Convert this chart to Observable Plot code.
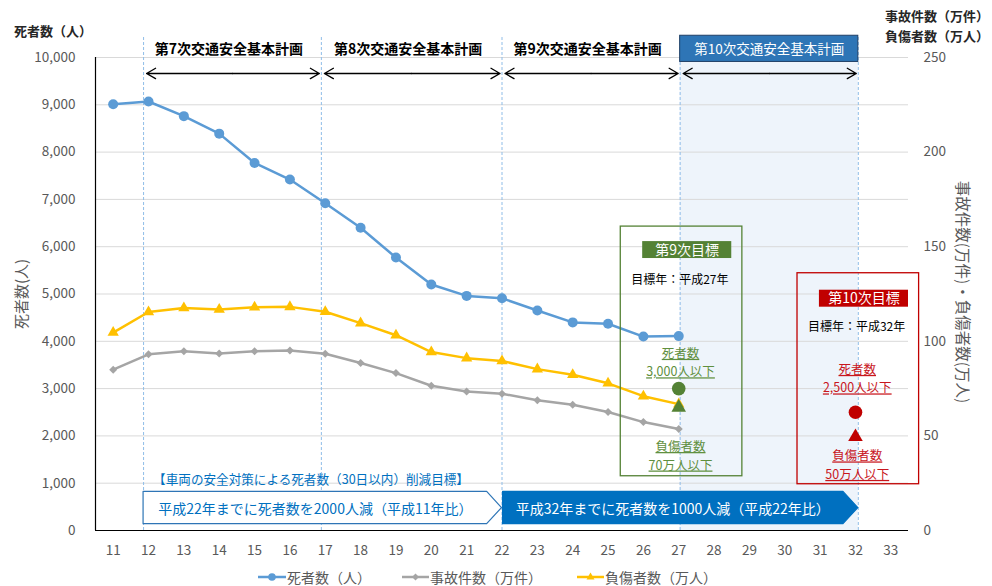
<!DOCTYPE html>
<html><head><meta charset="utf-8">
<script src="https://cdn.jsdelivr.net/npm/d3@7"></script>
<script src="https://cdn.jsdelivr.net/npm/@observablehq/plot@0.6"></script>
<style>
body{margin:0;background:#fff;font-family:"Noto Sans CJK JP","Noto Sans",sans-serif;}
#wrap{position:relative;width:992px;height:586px;overflow:hidden;background:#fff;}
.ov{position:absolute;white-space:nowrap;line-height:1;}
.leg{position:absolute;top:569px;height:16px;display:flex;align-items:center;font-size:14px;color:#595959;white-space:nowrap;}
</style></head>
<body><div id="wrap"></div>
<script>
// ---- data ----
const years = [11,12,13,14,15,16,17,18,19,20,21,22,23,24,25,26,27];
const deaths = [9010,9070,8760,8390,7770,7420,6920,6400,5770,5200,4960,4910,4650,4400,4370,4100,4110];
const accidents = [85.0,93.1,94.7,93.6,94.8,95.2,93.4,88.5,83.2,76.5,73.5,72.3,68.8,66.5,62.6,57.3,53.6];
const injured = [104.6,115.5,117.6,116.8,118.0,118.2,115.6,109.6,103.2,94.3,91.1,89.6,85.3,82.3,77.8,71.0,66.8];
const xTicks = [11,12,13,14,15,16,17,18,19,20,21,22,23,24,25,26,27,28,29,30,31,32,33];
const leftTicks = [0,1000,2000,3000,4000,5000,6000,7000,8000,9000,10000];
const rightTicks = [0,50,100,150,200,250];
const planLabels = ["第7次交通安全基本計画","第8次交通安全基本計画","第9次交通安全基本計画","第10次交通安全基本計画"];
const planBounds = [11.86,16.89,22.0,27.04,32.08];
const targetYears = [27,32];
const targetTitles = ["第9次目標","第10次目標"];
const targetYearLabels = ["目標年：平成27年","目標年：平成32年"];
const targetDeathTexts = ["死者数\n3,000人以下","死者数\n2,500人以下"];
const targetInjTexts = ["負傷者数\n70万人以下","負傷者数\n50万人以下"];
const targetDeaths = [3000,2500];
const targetInjMarks = [65,49.5];
const reductionTitle = "【車両の安全対策による死者数（30日以内）削減目標】";
const reductionLabels = ["平成22年までに死者数を2000人減（平成11年比）","平成32年までに死者数を1000人減（平成22年比）"];
const reductionBounds = [[11.86,22.0],[22.0,32.08]];
const seriesNames = ["死者数（人）","事故件数（万件）","負傷者数（万人）"];

// ---- styling / layout ----
const FONT = '"Noto Sans CJK JP","Noto Sans",sans-serif';
const K = 40; // right axis: 250 ↔ 10,000
const BLUE = "#5B9BD5", GRAY = "#A5A5A5", YEL = "#FFC000";
const GREEN = "#548235", GREENT = "#5F8F3E", RED = "#C00000", REDT = "#C8161D";

const rows = years.map((y,i)=>({year:y, deaths:deaths[i], acc:accidents[i]*K, inj:injured[i]*K}));
const plans = planLabels.map((l,i)=>({label:l, from:planBounds[i], to:planBounds[i+1], current:i===3}));
const tg = targetYears.map((y,i)=>({year:y, title:targetTitles[i], ylab:targetYearLabels[i],
  dt:targetDeathTexts[i], it:targetInjTexts[i], d:targetDeaths[i], inj:targetInjMarks[i]*K,
  col:i===0?GREEN:RED, tcol:i===0?GREENT:REDT}));
// annotation vertical layout (in left-axis units)
const L = [
  {top:6425,bot:1147,lt:6108,lb:5750,ltxt:5929,yl:5290,dm:3580,im:1610},
  {top:5439,bot:978,lt:5080,lb:4721,ltxt:4905,yl:4299,dm:3240,im:1411}
];
tg.forEach((t,i)=>Object.assign(t,L[i]));

const ARROW_Y = 9662, PLAN_Y = 10165, LINE_TOP = 10460, BOX_TOP = 10460, BOX_BOT = 9906;
const RED_TOP = 815, RED_BOT = 133, RED_MID = 474;

const marks = [];
// shaded current plan
marks.push(Plot.rect([plans[3]], {x1:"from", x2:"to", y1:0, y2:10000, fill:"#EEF4FB"}));
marks.push(Plot.gridY(leftTicks.slice(1), {stroke:"#D9D9D9", strokeOpacity:1, strokeWidth:1}));
marks.push(Plot.ruleX(planBounds, {y1:0, y2:LINE_TOP, stroke:"#8FBDE8", strokeWidth:1, strokeDasharray:"3,2"}));
// series
marks.push(Plot.line(rows, {x:"year", y:"acc", stroke:GRAY, strokeWidth:2.5}));
marks.push(Plot.dot(rows, {x:"year", y:"acc", symbol:"diamond2", r:3.6, fill:GRAY}));
marks.push(Plot.line(rows, {x:"year", y:"inj", stroke:YEL, strokeWidth:2.5}));
marks.push(Plot.dot(rows, {x:"year", y:"inj", symbol:"triangle", r:4.2, fill:YEL}));
marks.push(Plot.line(rows, {x:"year", y:"deaths", stroke:BLUE, strokeWidth:2.5}));
marks.push(Plot.dot(rows, {x:"year", y:"deaths", r:5, fill:BLUE}));
// plan headers
marks.push(Plot.text(plans.filter(p=>!p.current), {x:p=>(p.from+p.to)/2-0.1, y:PLAN_Y, text:"label", fill:"#000", fontSize:14, fontWeight:"bold"}));
marks.push(Plot.rect([plans[3]], {x1:"from", x2:"to", y1:BOX_BOT, y2:BOX_TOP, fill:"#2E75B6", stroke:"#1F3F66", strokeWidth:1}));
marks.push(Plot.text([plans[3]], {x:p=>(p.from+p.to)/2, y:PLAN_Y, text:"label", fill:"#fff", fontSize:13.5}));
marks.push(Plot.arrow(plans, {x1:p=>(p.from+p.to)/2, x2:"from", y1:ARROW_Y, y2:ARROW_Y, insetEnd:3, stroke:"#000", strokeWidth:1.3, headLength:12, headAngle:60}));
marks.push(Plot.arrow(plans, {x1:p=>(p.from+p.to)/2, x2:"to", y1:ARROW_Y, y2:ARROW_Y, insetEnd:2, stroke:"#000", strokeWidth:1.3, headLength:12, headAngle:60}));
// target boxes
marks.push(Plot.rect(tg, {x1:t=>t.year-1.64, x2:t=>t.year+1.8, y1:"bot", y2:"top", fill:"none", stroke:"col", strokeWidth:1.3}));
marks.push(Plot.rect(tg, {x1:t=>t.year-1.02, x2:t=>t.year+1.5, y1:"lb", y2:"lt", fill:"col"}));
marks.push(Plot.text(tg, {x:t=>t.year+0.24, y:"ltxt", text:"title", fill:"#fff", fontSize:14}));
marks.push(Plot.text(tg, {x:t=>t.year+0.03, y:"yl", text:"ylab", fill:"#000", fontSize:12}));
marks.push(Plot.text(tg, {x:t=>t.year+0.05, y:"dm", text:"dt", fill:"tcol", fontSize:12.5, lineHeight:1.48}));
marks.push(Plot.text(tg, {x:t=>t.year+0.05, y:"im", text:"it", fill:"tcol", fontSize:12.5, lineHeight:1.48}));
marks.push(Plot.dot(tg, {x:"year", y:"d", r:6.8, fill:"col"}));
marks.push(Plot.dot(tg, {x:"year", y:"inj", symbol:"triangle", r:5.4, fill:"col"}));
// reduction goals
marks.push(Plot.text([reductionTitle], {x:12.13, y:1077, text:d=>d, textAnchor:"start", fill:"#0070C0", fontSize:12.6}));
reductionBounds.forEach(([a,b],i)=>{
  const shape = [{x:a+(i?0.03:0), y1:RED_BOT, y2:RED_TOP},{x:b-0.42, y1:RED_BOT, y2:RED_TOP},{x:b, y1:RED_MID, y2:RED_MID}];
  marks.push(Plot.area(shape, {x1:"x", y1:"y1", y2:"y2", fill:i?"#0070C0":"#fff", stroke:i?"#0070C0":"#2E75B6", strokeWidth:1.2}));
  marks.push(Plot.text([reductionLabels[i]], {x:(a+b-0.42)/2, y:RED_MID-25, text:d=>d, fill:i?"#fff":"#0070C0", fontSize:14}));
});
// axis lines
marks.push(Plot.ruleX([10.5], {y1:0, y2:10000, stroke:"#000", strokeWidth:1.2}));
marks.push(Plot.ruleY([0], {x1:10.5, x2:33.5, stroke:"#000", strokeWidth:1.2}));
// axes
marks.push(Plot.axisY(leftTicks, {anchor:"left", tickSize:0, tickPadding:20, tickFormat:d3.format(","), fill:"#595959", fontSize:13.5, label:null}));
marks.push(Plot.axisY(rightTicks.map(v=>v*K), {anchor:"right", tickSize:0, tickPadding:15, tickFormat:v=>v/K, fill:"#595959", fontSize:13.5, label:null}));
marks.push(Plot.axisX(xTicks, {anchor:"bottom", tickSize:0, tickPadding:15, tickFormat:d=>String(d), fill:"#595959", fontSize:13.5, label:null}));

const chart = Plot.plot({
  width:992, height:586,
  marginTop:57, marginBottom:56, marginLeft:95, marginRight:84,
  style:{fontFamily:FONT, fontSize:"13px", color:"#595959", background:"transparent", overflow:"visible"},
  x:{type:"linear", domain:[10.5,33.5]},
  y:{domain:[0,10000]},
  marks
});
const wrap = document.getElementById("wrap");
wrap.appendChild(chart);

// underline target texts
const ul = new Set([...targetDeathTexts,...targetInjTexts].map(s=>s.replace("\n","")));
chart.querySelectorAll("text").forEach(t=>{ if (ul.has(t.textContent)) t.style.textDecoration = "underline"; });

// ---- HTML overlays: axis titles and legend ----
function ov(html, css){ const d=document.createElement("div"); d.className="ov"; d.innerHTML=html; Object.assign(d.style, css); wrap.appendChild(d); return d; }
ov("死者数（人）", {left:"14px", top:"24px", fontSize:"13px", fontWeight:"bold", color:"#262626"});
ov("事故件数（万件）", {left:"885px", top:"9px", fontSize:"13px", fontWeight:"bold", color:"#262626"});
ov("負傷者数（万人）", {left:"885px", top:"29px", fontSize:"13px", fontWeight:"bold", color:"#262626"});
ov("死者数(人)", {left:"20px", top:"294px", fontSize:"15px", color:"#595959", transform:"translate(-50%,-50%) rotate(-90deg)"});
ov("事故件数(万件)・負傷者数(万人)", {left:"963px", top:"292px", fontSize:"15.5px", color:"#595959", transform:"translate(-50%,-50%) rotate(90deg)"});

const legItems = [
  {left:258, w:28, col:BLUE, mk:'<circle cx="14" cy="8" r="3.8" fill="'+BLUE+'"/>'},
  {left:402, w:27, col:GRAY, mk:'<path d="M13.5 4.5 L17 8 L13.5 11.5 L10 8Z" fill="'+GRAY+'"/>'},
  {left:577, w:27, col:YEL, mk:'<path d="M13.5 3.5 L17.5 10.5 L9.5 10.5Z" fill="'+YEL+'"/>'}
];
legItems.forEach((it,i)=>{
  const d = document.createElement("div"); d.className="leg"; d.style.left = it.left+"px";
  d.innerHTML = '<svg width="'+it.w+'" height="16"><line x1="0" x2="'+it.w+'" y1="8" y2="8" stroke="'+it.col+'" stroke-width="2.5"/>'+it.mk+'</svg><span style="margin-left:1px">'+seriesNames[i]+'</span>';
  wrap.appendChild(d);
});
</script>
</body></html>
